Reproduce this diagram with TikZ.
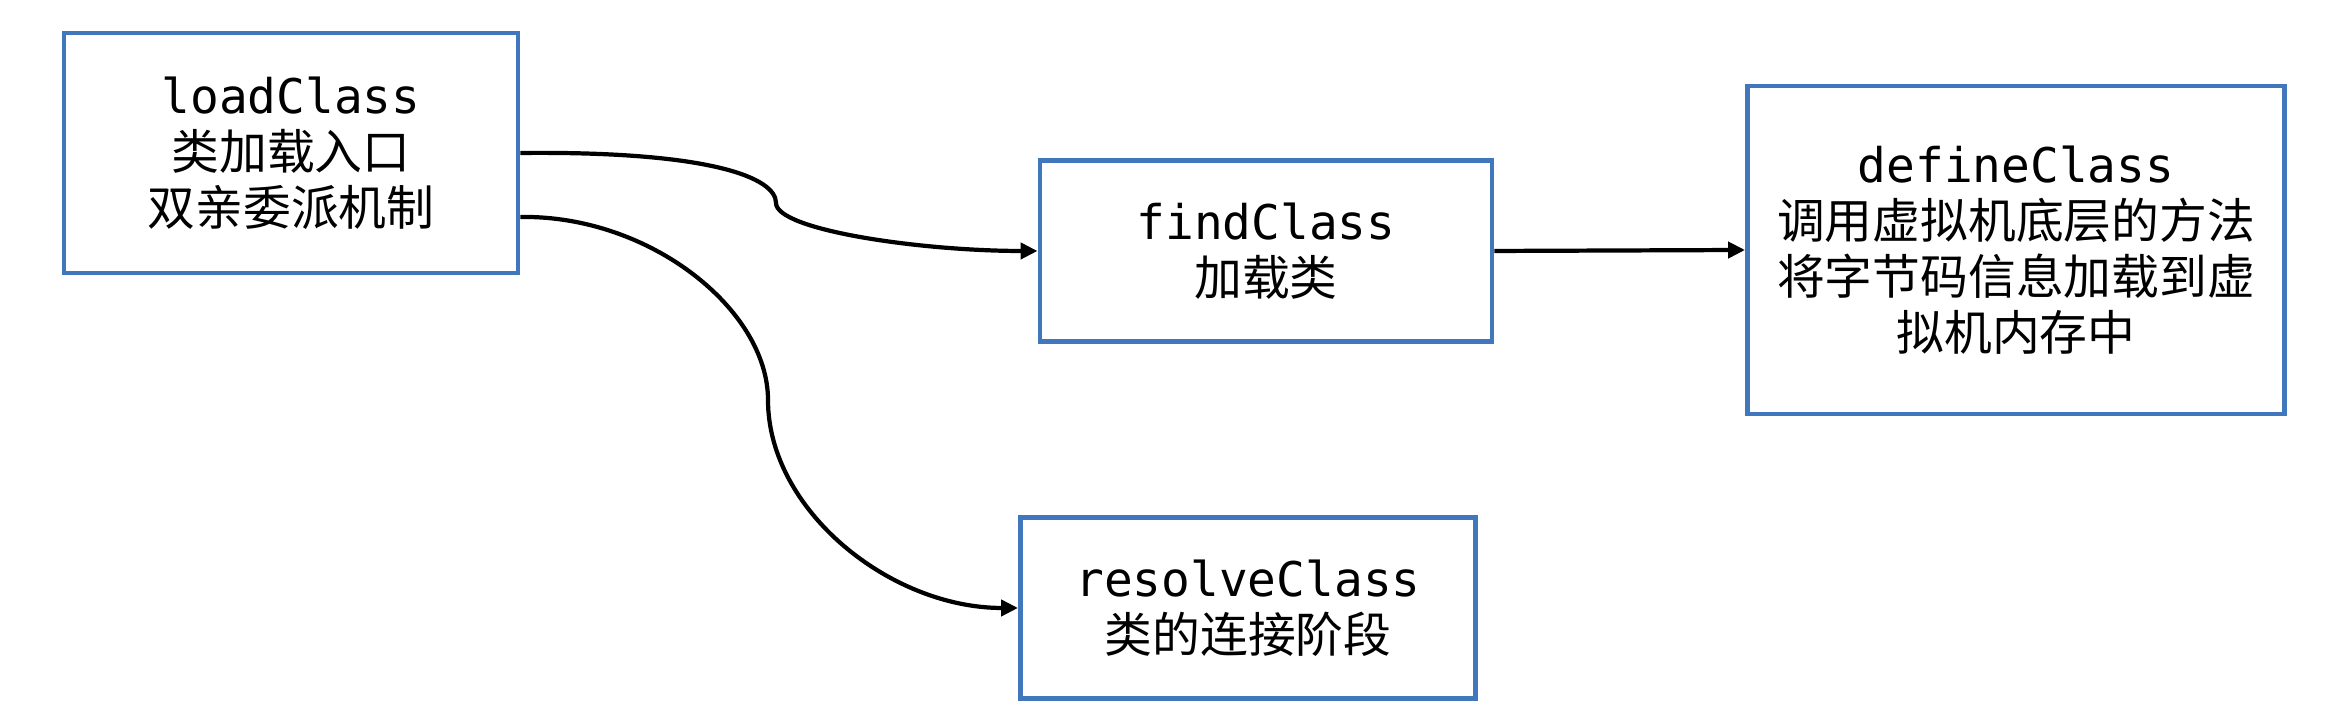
\documentclass[tikz,border=0pt]{standalone}
\usepackage[]{fontspec}
\usepackage[]{tikz}
\usetikzlibrary{arrows.meta}
\setmonofont{DejaVu Sans Mono}
\newfontfamily\cjk{Noto Sans CJK SC}
\definecolor{boxblue}{RGB}{65,119,189}
\tikzset{classbox/.style = {draw=boxblue, line width=1.4pt, align=center, inner sep=0, font=\fontsize{13.6}{15.9}\selectfont}}
\tikzset{link/.style = {line width=1.2pt, -{Triangle[length=0.17cm, width=0.16cm]}}}

\begin{document}
\begin{tikzpicture}
            \useasboundingbox (0,0) rectangle (23.26,7.2);
            \node [classbox, minimum width=4.54cm, minimum height=2.40cm] (load) at (2.91,5.67) {\ttfamily loadClass\\\cjk 类加载入口\\\cjk 双亲委派机制};
            \node [classbox, minimum width=4.52cm, minimum height=1.81cm] (find) at (12.66,4.69) {\ttfamily findClass\\\cjk 加载类};
            \node [classbox, minimum width=5.37cm, minimum height=3.28cm] (define) at (20.16,4.70) {\ttfamily defineClass\\\cjk 调用虚拟机底层的方法\\\cjk 将字节码信息加载到虚\\\cjk 拟机内存中};
            \node [classbox, minimum width=4.55cm, minimum height=1.81cm] (resolve) at (12.48,1.12) {\ttfamily resolveClass\\\cjk 类的连接阶段};
            \coordinate (kink) at (7.76,5.17);
            \coordinate (bend) at (7.68,3.20);
            \draw [link] (load.east) .. controls (7.12,5.69) and (7.76,5.42) .. (kink) .. controls (7.76,4.90) and (9.2,4.69) .. (find.west);
            \draw [link] ([yshift=-0.64cm]load.east) .. controls (6.5,5.05) and (7.68,4.1) .. (bend) .. controls (7.68,2.1) and (8.9,1.12) .. (resolve.west);
            \draw [link] (find.east) -- (define.west);
        \end{tikzpicture}
\end{document}
